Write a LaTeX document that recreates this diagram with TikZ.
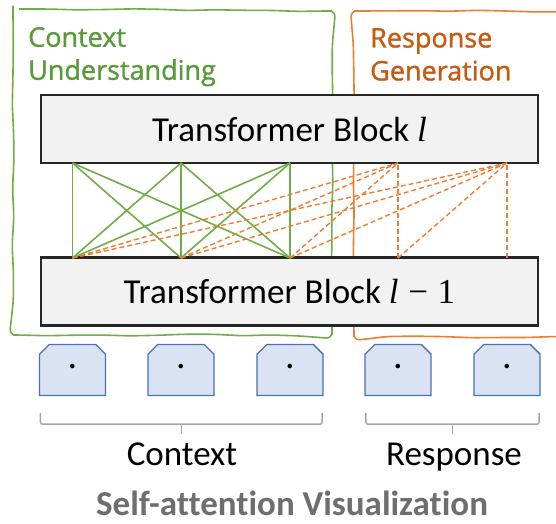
\documentclass[tikz,border=0pt]{standalone}
\usepackage{fontspec}
\setmainfont[Ligatures=NoCommon]{Carlito}
\newfontfamily\handfont[FakeBold=1.2]{Open Sans}
\newfontfamily\symfont{Liberation Serif}
\newcommand{\layervar}{{\symfont\itshape l}}
\newcommand{\layerminus}{{\symfont\;−\;1}}
\usetikzlibrary{shapes.misc,decorations.pathmorphing,calc}

\definecolor{ctxgreen}{HTML}{70AD47}
\definecolor{ctxtext}{HTML}{5B9A3B}
\definecolor{resorange}{HTML}{ED7D31}
\definecolor{restext}{HTML}{C55A11}
\definecolor{tokfill}{HTML}{DAE3F3}
\definecolor{tokdraw}{HTML}{4A6FB5}
\definecolor{blockfill}{HTML}{F2F2F2}
\definecolor{blockdraw}{HTML}{262626}
\definecolor{bracegray}{HTML}{A6A6A6}
\definecolor{titlegray}{HTML}{6E6E6E}

\begin{document}
\begin{tikzpicture}[x=1pt,y=-1pt,
  frame/.style={line width=1.6pt, decorate,
    decoration={random steps, segment length=28pt, amplitude=0.9pt},
    rounded corners=6pt},
  heading/.style={font=\handfont\fontsize{27}{33}\selectfont, align=left,
    inner sep=0pt, anchor=north west},
  block/.style={draw=blockdraw, fill=blockfill, line width=2.2pt,
    minimum width=497pt, minimum height=68pt, inner sep=0pt,
    font=\fontsize{35}{40}\selectfont},
  token/.style={chamfered rectangle, chamfered rectangle corners={north west,north east},
    chamfered rectangle xsep=8pt, chamfered rectangle ysep=8pt,
    draw=tokdraw, fill=tokfill, line width=1.3pt,
    minimum width=66pt, minimum height=51pt, inner sep=0pt,
    font=\fontsize{32}{32}\selectfont},
  ctxlink/.style={ctxgreen, line width=1.6pt},
  reslink/.style={resorange, line width=1.4pt, dash pattern=on 5pt off 3pt},
  bracket/.style={bracegray, line width=1.4pt, rounded corners=2pt},
  label/.style={font=\fontsize{35}{40}\selectfont, anchor=base},
  title/.style={font=\bfseries\fontsize{35}{40}\selectfont, text=titlegray, anchor=base}
]
\useasboundingbox (0,0) rectangle (556,523);

% hand-drawn region frames
\pgfmathsetseed{7}
\draw[frame, ctxgreen] (13,9) -- (332,11) -- (332,335) -- (13,335) -- cycle;
\draw[frame, resorange] (590,11) -- (354,11) -- (354,337) -- (590,337);

\node[heading, text=ctxtext] (ctxhead) at (28,27) {Context\\Understanding};
\node[heading, text=restext] (reshead) at (370,28) {Response\\Generation};

% transformer layers
\node[block] (blkTop) at (289.5,129) {Transformer Block \layervar};
\node[block] (blkBot) at (289.5,291.5) {Transformer Block \layervar\layerminus};

% attention endpoints on the two layers
\foreach \x [count=\i] in {72.5,181,290,398,507} {
  \coordinate (t\i) at (\x,163);
  \coordinate (b\i) at (\x,258);
}

% context tokens attend to each other in both directions
\foreach \i in {1,2,3} {
  \foreach \j in {1,2,3} {
    \draw[ctxlink] (b\i) -- (t\j);
  }
}
% response tokens attend to everything before them
\foreach \i in {1,2,3,4} {
  \draw[reslink] (b\i) -- (t5);
}
\foreach \i in {1,2,3,4} {
  \draw[reslink] (b\i) -- (t4);
}
\draw[reslink] (b5) -- (t5);

% input tokens
\foreach \x [count=\i] in {72.5,181,290,398,507} {
  \node[token] (tok\i) at (\x,370) {·};
}

% brackets grouping the tokens
\coordinate (ctxL) at ($(tok1.south west)+(1.5,17)$);
\coordinate (ctxR) at ($(tok3.south east)+(-1.5,17)$);
\coordinate (resL) at ($(tok4.south west)+(1.5,17)$);
\coordinate (resR) at ($(tok5.south east)+(-1.5,17)$);
\draw[bracket] (ctxL) -- ++(0,11) -| (ctxR);
\draw[bracket] ($(ctxL)!0.5!(ctxR)+(0,11)$) -- ++(0,10);
\draw[bracket] (resL) -- ++(0,11) -| (resR);
\draw[bracket] ($(resL)!0.5!(resR)+(0,11)$) -- ++(0,10);

\node[label] (ctxlabel) at (182,465) {Context};
\node[label] (reslabel) at (454,465) {Response};

\node[title] (caption) at (292,515) {Self-attention Visualization};
\end{tikzpicture}
\end{document}
